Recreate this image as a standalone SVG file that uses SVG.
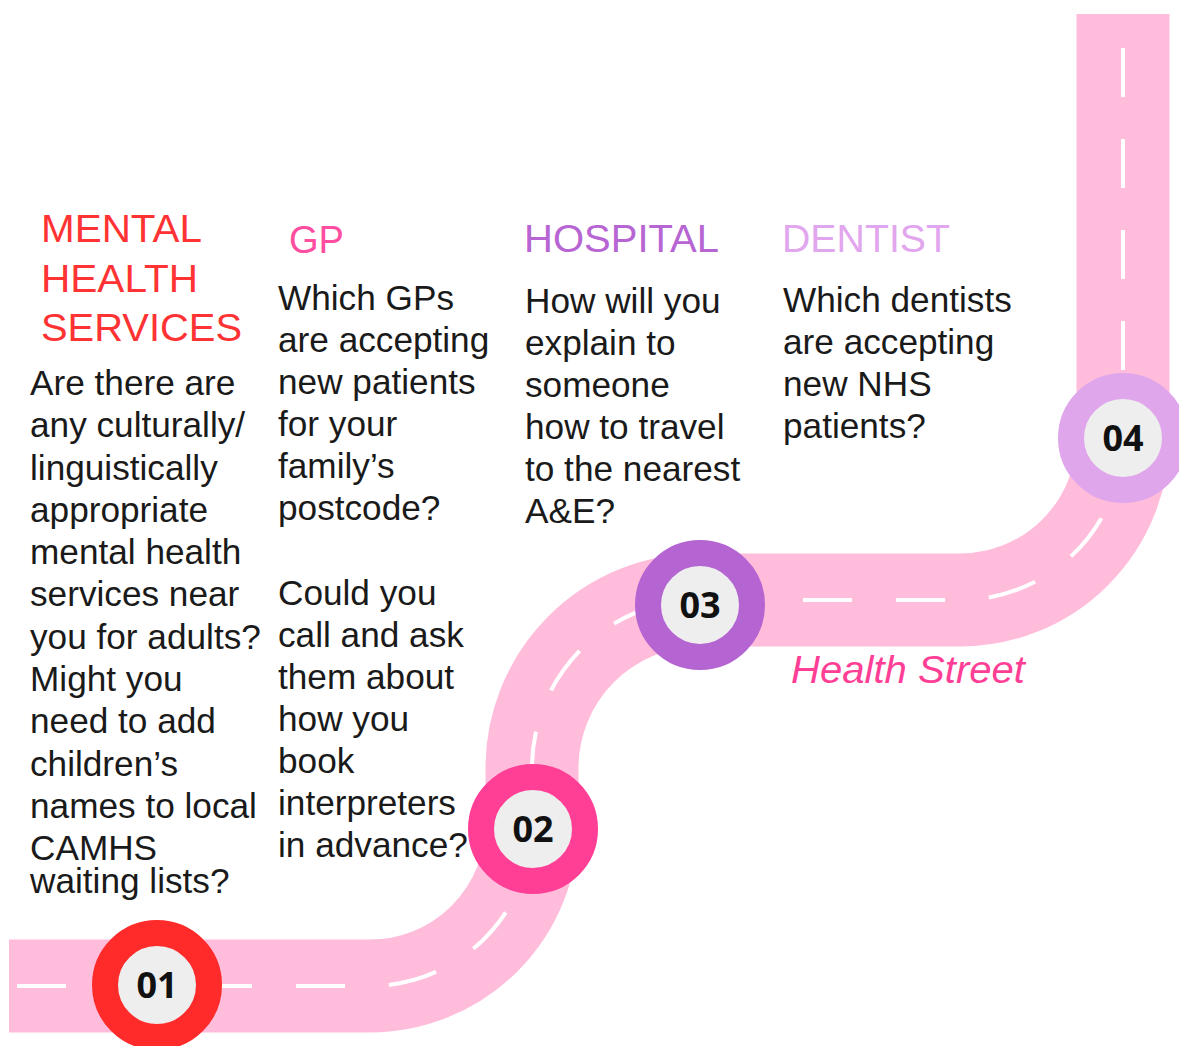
<svg xmlns="http://www.w3.org/2000/svg" width="1179" height="1046" viewBox="0 0 1179 1046">
<style>
.road{fill:none;stroke:#FFBCDB;stroke-width:93;stroke-linejoin:round}
.dash{fill:none;stroke:#FFFFFF;stroke-width:4}
.ring{stroke-width:26}
.num{font-family:"Open Sans","Noto Sans",sans-serif;font-weight:700;font-size:36px;fill:#111111;text-anchor:middle}
.title{font-family:"Liberation Sans",Arial,sans-serif;font-size:38.5px}
.body{font-family:"Liberation Sans",Arial,sans-serif;font-size:35.2px;fill:#1A1A1A}
</style>
<rect width="1179" height="1046" fill="#FFFFFF"/>
<g id="connectors">
<path class="road" d="M 9 986 H 370 A 162 162 0 0 0 532 824 V 768 A 168 168 0 0 1 700 600 H 960 A 163 163 0 0 0 1123 437 V 14"/>
<path class="dash" stroke-dasharray="49 44" stroke-dashoffset="85" d="M 9 986 H 370 A 162 162 0 0 0 532 824 V 768 A 168 168 0 0 1 700 600"/>
<path class="dash" stroke-dasharray="49 44" stroke-dashoffset="83" d="M 700 600 H 960 A 163 163 0 0 0 1123 437"/>
<path class="dash" stroke-dasharray="49 42" stroke-dashoffset="24" d="M 1123 437 V 14"/>
</g>
<g id="node-01">
<circle cx="157" cy="985" r="52" class="ring" fill="#EEEEEE" stroke="#FF2B2B"/>
<text class="num" x="157" y="998">01</text>
</g>
<g id="node-02">
<circle cx="533" cy="829" r="52" class="ring" fill="#EEEEEE" stroke="#FF3E96"/>
<text class="num" x="533" y="842">02</text>
</g>
<g id="node-03">
<circle cx="700" cy="605" r="52" class="ring" fill="#EEEEEE" stroke="#B565D2"/>
<text class="num" x="700" y="618">03</text>
</g>
<g id="node-04">
<circle cx="1123" cy="438" r="52" class="ring" fill="#EEEEEE" stroke="#E0A6EC"/>
<text class="num" x="1123" y="451">04</text>
</g>
<g id="mental-health">
<text class="title" fill="#FF3333" x="41" y="242" textLength="161" lengthAdjust="spacingAndGlyphs">MENTAL</text>
<text class="title" fill="#FF3333" x="41" y="292" textLength="157" lengthAdjust="spacingAndGlyphs">HEALTH</text>
<text class="title" fill="#FF3333" x="41" y="341" textLength="201" lengthAdjust="spacingAndGlyphs">SERVICES</text>
<text class="body">
<tspan x="30" y="395">Are there are</tspan>
<tspan x="30" y="437">any culturally/</tspan>
<tspan x="30" y="480">linguistically</tspan>
<tspan x="30" y="522">appropriate</tspan>
<tspan x="30" y="564">mental health</tspan>
<tspan x="30" y="606">services near</tspan>
<tspan x="30" y="649">you for adults?</tspan>
<tspan x="30" y="691">Might you</tspan>
<tspan x="30" y="733">need to add</tspan>
<tspan x="30" y="776">children’s</tspan>
<tspan x="30" y="818">names to local</tspan>
<tspan x="30" y="860">CAMHS</tspan>
<tspan x="30" y="893">waiting lists?</tspan>
</text>
</g>
<g id="gp">
<text class="title" fill="#FF4D9F" x="289" y="253" textLength="55" lengthAdjust="spacingAndGlyphs">GP</text>
<text class="body">
<tspan x="278" y="310">Which GPs</tspan>
<tspan x="278" y="352">are accepting</tspan>
<tspan x="278" y="394">new patients</tspan>
<tspan x="278" y="436">for your</tspan>
<tspan x="278" y="478">family’s</tspan>
<tspan x="278" y="520">postcode?</tspan>
<tspan x="278" y="605">Could you</tspan>
<tspan x="278" y="647">call and ask</tspan>
<tspan x="278" y="689">them about</tspan>
<tspan x="278" y="731">how you</tspan>
<tspan x="278" y="773">book</tspan>
<tspan x="278" y="815">interpreters</tspan>
<tspan x="278" y="857">in advance?</tspan>
</text>
</g>
<g id="hospital">
<text class="title" fill="#B865D4" x="524" y="252" textLength="195" lengthAdjust="spacingAndGlyphs">HOSPITAL</text>
<text class="body">
<tspan x="525" y="313">How will you</tspan>
<tspan x="525" y="355">explain to</tspan>
<tspan x="525" y="397">someone</tspan>
<tspan x="525" y="439">how to travel</tspan>
<tspan x="525" y="481">to the nearest</tspan>
<tspan x="525" y="523">A&amp;E?</tspan>
</text>
</g>
<g id="dentist">
<text class="title" fill="#E2A6EE" x="782" y="252" textLength="168" lengthAdjust="spacingAndGlyphs">DENTIST</text>
<text class="body">
<tspan x="783" y="312">Which dentists</tspan>
<tspan x="783" y="354">are accepting</tspan>
<tspan x="783" y="396">new NHS</tspan>
<tspan x="783" y="438">patients?</tspan>
</text>
</g>
<g id="street-label">
<text x="791" y="683" font-family="Liberation Sans, Arial, sans-serif" font-style="italic" font-size="38" fill="#FF3E96" textLength="234" lengthAdjust="spacingAndGlyphs">Health Street</text>
</g>
</svg>
